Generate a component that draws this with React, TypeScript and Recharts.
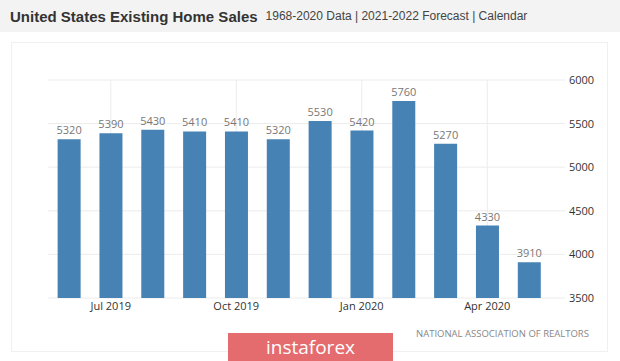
import React from "react"
import {
  Bar,
  BarChart,
  CartesianGrid,
  LabelList,
  ReferenceLine,
  XAxis,
  YAxis,
} from "recharts"

const months = [
  "Jun 2019", "Jul 2019", "Aug 2019", "Sep 2019", "Oct 2019", "Nov 2019",
  "Dec 2019", "Jan 2020", "Feb 2020", "Mar 2020", "Apr 2020", "May 2020",
]
const sales = [5320, 5390, 5430, 5410, 5410, 5320, 5530, 5420, 5760, 5270, 4330, 3910]
const tickLabels = ["Jul 2019", "Oct 2019", "Jan 2020", "Apr 2020"]
const yTicks = [3500, 4000, 4500, 5000, 5500, 6000]

const data = months.map((m, i) => ({ month: m, sales: sales[i] }))

const font = "'Open Sans', sans-serif"
const chartMargin = { top: 80, right: 0, left: 48, bottom: 43 }
const gridColor = "#ececec"

// shared axes so the back (grid) and front (bars) charts line up
function Axes({ hidden, yWidth = 70 }: { hidden?: boolean; yWidth?: number }) {
  const tickStyle = { fill: "#333", fontSize: 11, fontFamily: font }
  return [
    <XAxis
      key="x"
      dataKey="month"
      interval={0}
      axisLine={false}
      tickLine={false}
      tickSize={0}
      tickMargin={4}
      height={20}
      tick={tickStyle}
      tickFormatter={(v: string) => (!hidden && tickLabels.includes(v) ? v : "")}
    />,
    <YAxis
      key="y"
      orientation="right"
      domain={[3500, 6000]}
      ticks={yTicks}
      axisLine={false}
      tickLine={false}
      tickSize={0}
      tickMargin={19}
      width={yWidth}
      tick={tickStyle}
      tickFormatter={(v: number) => (hidden ? "" : String(v))}
    />,
  ]
}

// invisible series so the back charts get the same domain as the front one
const ghost = <Bar dataKey="sales" fill="none" isAnimationActive={false} />

const layer: React.CSSProperties = { position: "absolute", left: 0, top: 0 }

export default function App() {
  return (
    <div
      style={{
        position: "absolute",
        left: 0,
        top: 0,
        width: 620,
        height: 361,
        background: "#fff",
        overflow: "hidden",
        fontFamily: font,
      }}
    >
      {/* header */}
      <div
        style={{
          position: "absolute",
          left: 0,
          top: 0,
          width: 620,
          height: 32,
          background: "#f3f3f3",
          display: "flex",
          alignItems: "center",
          paddingLeft: 10,
          boxSizing: "border-box",
          fontFamily: "'Liberation Sans', Arial, sans-serif",
        }}
      >
        <span style={{ fontWeight: "bold", fontSize: 15, color: "#333" }}>
          United States Existing Home Sales
        </span>
        <span style={{ fontSize: 12, color: "#444", marginLeft: 8 }}>
          1968-2020 Data | 2021-2022 Forecast | Calendar
        </span>
      </div>

      {/* panel border */}
      <div
        style={{
          position: "absolute",
          left: 11,
          top: 42,
          width: 597,
          height: 310,
          border: "1px solid #f0f0f0",
          boxSizing: "border-box",
        }}
      />

      {/* back: horizontal grid, runs a bit past the bars */}
      <div style={layer}>
        <BarChart width={620} height={361} data={data} margin={chartMargin}>
          <CartesianGrid vertical={false} stroke={gridColor} />
          {Axes({ hidden: true, yWidth: 55 })}
          {ghost}
        </BarChart>
      </div>

      {/* back: vertical lines at labelled months */}
      <div style={layer}>
        <BarChart width={620} height={361} data={data} margin={chartMargin} barCategoryGap="23%">
          {Axes({ hidden: true })}
          {ghost}
          {tickLabels.map((t) => (
            <ReferenceLine key={t} x={t} stroke={gridColor} />
          ))}
        </BarChart>
      </div>

      {/* front: bars and labels */}
      <div style={layer}>
        <BarChart width={620} height={361} data={data} margin={chartMargin} barCategoryGap="23%">
          {Axes({})}
          <Bar dataKey="sales" fill="#4682b4" isAnimationActive={false}>
            <LabelList
              dataKey="sales"
              position="top"
              offset={5}
              fill="#777"
              fontSize={11}
              fontFamily={font}
            />
          </Bar>
        </BarChart>
      </div>

      {/* source */}
      <div
        style={{
          position: "absolute",
          left: 416,
          top: 327,
          fontSize: 9.5,
          color: "#888",
          whiteSpace: "nowrap",
        }}
      >
        NATIONAL ASSOCIATION OF REALTORS
      </div>

      {/* watermark */}
      <div
        style={{
          position: "absolute",
          left: 228,
          top: 333,
          width: 165,
          height: 28,
          background: "#e46b6e",
          color: "#fff",
          fontSize: 19,
          textAlign: "center",
          lineHeight: "28px",
        }}
      >
        instaforex
      </div>
    </div>
  )
}
